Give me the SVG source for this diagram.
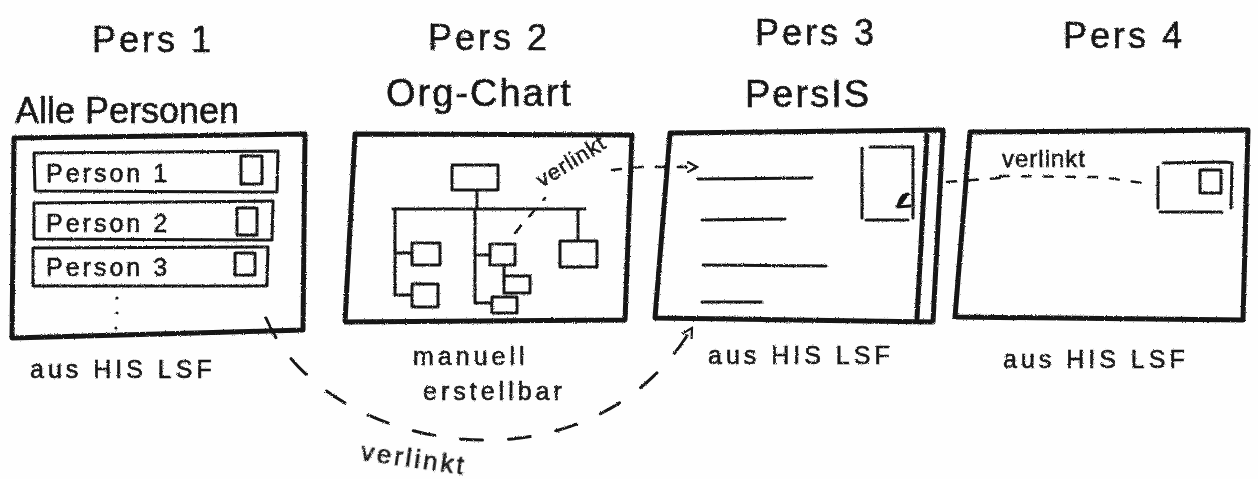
<svg xmlns="http://www.w3.org/2000/svg" width="1258" height="479" viewBox="0 0 1258 479">
<style>
  .t{font-family:"Liberation Sans","DejaVu Sans",sans-serif;fill:#151515;stroke:#151515;stroke-width:0.6}
  .title{font-size:36px;letter-spacing:3px}
  .head{font-size:38px;letter-spacing:2px}
  .row{font-size:25px;letter-spacing:3px}
  .note{font-size:25px;letter-spacing:4px}
  .lnk{font-size:22px;letter-spacing:1px}
  .frame{fill:none;stroke:#151515;stroke-width:5;stroke-linejoin:round;stroke-linecap:round}
  .thin{fill:none;stroke:#151515;stroke-width:3;stroke-linejoin:round;stroke-linecap:round}
  .dash{fill:none;stroke:#151515;stroke-width:2.5;stroke-dasharray:9 13;stroke-linecap:round}
  .bigdash{fill:none;stroke:#151515;stroke-width:3;stroke-dasharray:22 26;stroke-linecap:round}
</style>
<defs>
  <filter id="pencil" x="-5%" y="-5%" width="110%" height="110%">
    <feTurbulence type="fractalNoise" baseFrequency="0.9" numOctaves="2" seed="3" result="n"/>
    <feDisplacementMap in="SourceGraphic" in2="n" scale="2.5" xChannelSelector="R" yChannelSelector="G"/>
  </filter>
  <marker id="open" viewBox="0 0 12 12" refX="10" refY="6" markerWidth="12" markerHeight="12" markerUnits="userSpaceOnUse" orient="auto">
    <path d="M1 1 L10 6 L1 11" fill="none" stroke="#151515" stroke-width="2.2" stroke-linecap="round"/>
  </marker>
</defs>
<rect width="1258" height="479" fill="#fefefe"/>

<!-- Pers 1 -->
<g id="pers1" filter="url(#pencil)">
  <text class="t title" x="92" y="52">Pers 1</text>
  <text class="t head" x="15" y="123" style="font-size:36px;letter-spacing:0px">Alle Personen</text>
  <path class="frame" d="M14 138 L305 134 L303 330 L12 338 Z"/>
  <path class="thin" d="M34 153 L278 151 L277 192 L35 191 Z"/>
  <rect class="thin" x="241" y="156" width="21" height="28"/>
  <text class="t row" x="46" y="182">Person 1</text>
  <path class="thin" d="M34 203 L273 201 L272 240 L34 239 Z"/>
  <rect class="thin" x="237" y="208" width="20" height="27"/>
  <text class="t row" x="46" y="232">Person 2</text>
  <path class="thin" d="M33 248 L268 247 L267 286 L33 286 Z"/>
  <rect class="thin" x="235" y="253" width="20" height="22"/>
  <text class="t row" x="46" y="276">Person 3</text>
  <circle cx="117" cy="298" r="1.6" fill="#151515"/>
  <circle cx="117" cy="313" r="1.6" fill="#151515"/>
  <circle cx="116" cy="328" r="1.6" fill="#151515"/>
  <text class="t note" x="30" y="378">aus HIS LSF</text>
</g>

<!-- Pers 2 -->
<g id="pers2" filter="url(#pencil)">
  <text class="t title" x="428" y="50">Pers 2</text>
  <text class="t head" x="386" y="106">Org-Chart</text>
  <path class="frame" d="M355 134 L632 135 L625 320 L345 322 Z"/>
  <rect class="thin" x="452" y="165" width="46" height="25"/>
  <path class="thin" d="M477 190 L477 209 M393 209 L585 209 M395 209 L395 295 L412 295 M395 253 L412 253 M475 209 L475 303 L492 303 M475 255 L490 255 M578 209 L578 241"/>
  <rect class="thin" x="412" y="243" width="28" height="22"/>
  <rect class="thin" x="412" y="284" width="26" height="23"/>
  <rect class="thin" x="490" y="244" width="25" height="21"/>
  <path class="thin" d="M504 265 L504 293 L530 293 L530 276 L506 276"/>
  <rect class="thin" x="492" y="297" width="25" height="16"/>
  <rect class="thin" x="560" y="241" width="37" height="26"/>
  <text class="t note" x="413" y="365">manuell</text>
  <text class="t note" x="423" y="400">erstellbar</text>
</g>

<!-- Pers 3 -->
<g id="pers3" filter="url(#pencil)">
  <text class="t title" x="755" y="45">Pers 3</text>
  <text class="t head" x="745" y="107">PersIS</text>
  <path class="frame" d="M670 133 L943 130 L933 322 L655 318 Z"/>
  <path class="frame" d="M927 135 L917 318"/>
  <path class="thin" d="M698 179 L812 178 M702 220 L785 219 M703 265 L826 266 M702 302 L762 302"/>
  <path class="thin" d="M862 148 L862 218 M870 147 L913 147 L913 218 M866 220 L908 220"/>
  <path class="thin" d="M898 206 Q901 194 908 194 Q903 201 897 207 L910 206"/>
  <text class="t note" x="708" y="364">aus HIS LSF</text>
</g>

<!-- Pers 4 -->
<g id="pers4" filter="url(#pencil)">
  <text class="t title" x="1063" y="48">Pers 4</text>
  <path class="frame" d="M970 132 L1248 130 L1243 320 L955 317 Z"/>
  <path class="thin" d="M1158 167 L1158 208 M1163 163 L1226 162 L1232 163 L1231 208 M1160 212 L1222 212"/>
  <rect class="thin" x="1200" y="170" width="21" height="23"/>
  <text class="t note" x="1003" y="368">aus HIS LSF</text>
</g>

<!-- connectors -->
<g id="connectors" filter="url(#pencil)">
  <path class="dash" d="M515 233 L545 198"/>
  <text class="t lnk" transform="translate(542 188) rotate(-32)">verlinkt</text>
  <path class="dash" d="M612 170 L640 167 L697 167" marker-end="url(#open)"/>
  <path class="dash" d="M947 182 L1000 178 M1000 176 L1100 177 L1150 184"/>
  <text class="t lnk" x="1002" y="167" style="font-size:24px">verlinkt</text>
  <path class="bigdash" d="M266 318 C320 450, 585 505, 692 328" marker-end="url(#open)"/>
  <text class="t lnk" transform="translate(360 460) rotate(8)" style="font-size:26px;letter-spacing:3px">verlinkt</text>
</g>
</svg>
